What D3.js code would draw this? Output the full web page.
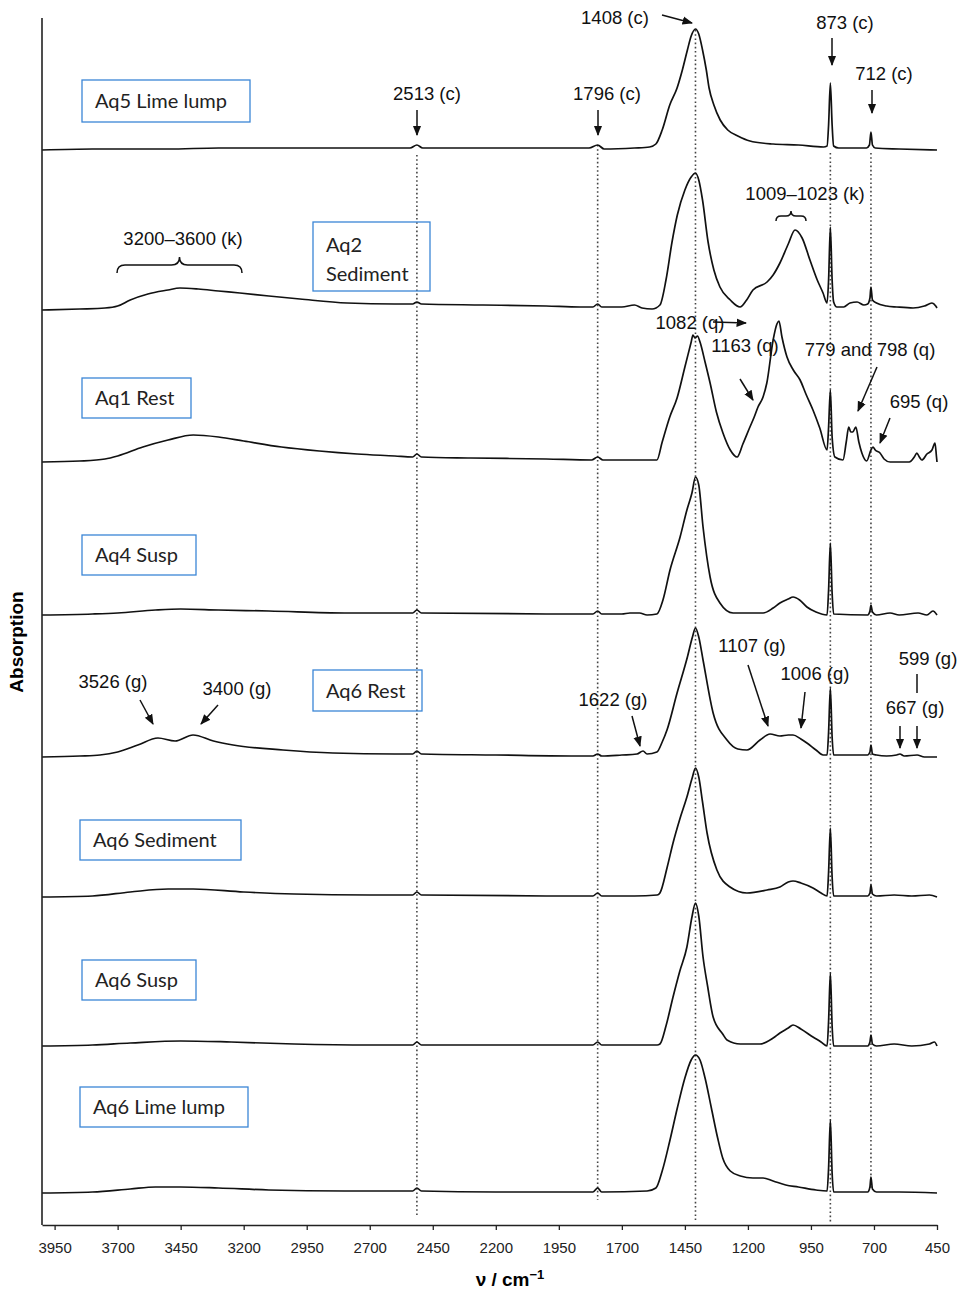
<!DOCTYPE html>
<html>
<head>
<meta charset="utf-8">
<script src="https://cdn.jsdelivr.net/npm/d3@7"></script>
<style>
  body { margin: 0; background: #fff; }
  svg { display: block; }
  .ann { font-family: "Liberation Sans", Arial, sans-serif; font-size: 18.5px; fill: #111; }
  .lbl { font-family: Lato, "Open Sans", sans-serif; font-size: 20px; fill: #222; }
</style>
</head>
<body>
<div id="chart"></div>
<script>
// wavenumber ticks (cm-1)
const xTicks = [3950, 3700, 3450, 3200, 2950, 2700, 2450, 2200, 1950, 1700, 1450, 1200, 950, 700, 450];

// sample names, top to bottom
const sampleNames = ["Aq5 Lime lump", "Aq2 Sediment", "Aq1 Rest", "Aq4 Susp",
                     "Aq6 Rest", "Aq6 Sediment", "Aq6 Susp", "Aq6 Lime lump"];

// vertical offsets of each spectrum (arbitrary absorption units)
const offsets = [10.75, 9.15, 7.63, 6.10, 4.68, 3.28, 1.79, 0.32];

// reference band positions drawn as dotted lines
const refBands = [2513, 1796, 1408, 873, 712];

// spectra: [wavenumber, absorption above offset]
const aq5LimeLump = [[4000,0],[3800,0.01],[3500,0.01],[3300,0.02],[3000,0.02],[2700,0.02],[2540,0.02],[2513,0.05],[2490,0.02],[2300,0.02],[2000,0.02],[1830,0.02],[1796,0.05],[1770,0.01],[1650,0.02],[1590,0.03],[1565,0.06],[1540,0.2],[1510,0.45],[1481,0.62],[1460,0.8],[1440,1.0],[1425,1.14],[1408,1.21],[1395,1.16],[1380,1.0],[1365,0.8],[1354,0.62],[1335,0.45],[1310,0.3],[1280,0.2],[1240,0.14],[1192,0.09],[1100,0.06],[1000,0.05],[900,0.03],[886,0.04],[880,0.25],[873,0.67],[866,0.25],[860,0.04],[840,0.02],[730,0.02],[718,0.05],[712,0.18],[706,0.05],[695,0.02],[600,0.01],[450,0]];

const aq2Sediment = [[4000,0],[3850,0.01],[3750,0.02],[3700,0.04],[3650,0.1],[3580,0.16],[3500,0.2],[3453,0.22],[3380,0.21],[3300,0.19],[3215,0.17],[3100,0.14],[2977,0.11],[2790,0.07],[2600,0.06],[2530,0.06],[2513,0.08],[2495,0.06],[2251,0.05],[2000,0.04],[1866,0.03],[1815,0.03],[1796,0.06],[1780,0.03],[1700,0.03],[1650,0.05],[1620,0.02],[1580,0.01],[1549,0.05],[1525,0.3],[1501,0.68],[1480,0.95],[1450,1.2],[1425,1.33],[1408,1.37],[1395,1.3],[1380,1.1],[1358,0.68],[1335,0.4],[1311,0.23],[1270,0.1],[1231,0.03],[1205,0.1],[1180,0.2],[1124,0.28],[1100,0.35],[1073,0.47],[1040,0.66],[1013,0.8],[985,0.72],[954,0.5],[925,0.3],[902,0.17],[886,0.07],[880,0.3],[873,0.83],[866,0.3],[860,0.08],[847,0.03],[820,0.03],[795,0.07],[767,0.08],[740,0.05],[725,0.06],[716,0.12],[712,0.23],[706,0.1],[690,0.07],[650,0.04],[609,0.03],[545,0.02],[500,0.04],[470,0.07],[455,0.04],[450,0.02]];

const aq1Rest = [[4000,0],[3850,0.01],[3750,0.03],[3700,0.06],[3600,0.15],[3500,0.22],[3400,0.27],[3300,0.25],[3200,0.21],[3050,0.15],[2900,0.11],[2750,0.08],[2600,0.06],[2530,0.05],[2513,0.08],[2495,0.05],[2300,0.04],[2000,0.03],[1820,0.02],[1796,0.05],[1775,0.02],[1650,0.02],[1561,0.02],[1540,0.2],[1510,0.45],[1481,0.64],[1450,0.95],[1425,1.2],[1418,1.27],[1410,1.24],[1400,1.26],[1390,1.2],[1370,1.0],[1350,0.79],[1325,0.5],[1299,0.29],[1270,0.12],[1243,0.05],[1220,0.18],[1192,0.35],[1175,0.45],[1160,0.55],[1140,0.65],[1125,0.79],[1100,1.22],[1085,1.38],[1077,1.41],[1065,1.25],[1045,1.05],[1020,0.92],[993,0.82],[970,0.68],[942,0.52],[915,0.34],[886,0.12],[880,0.35],[873,0.72],[866,0.25],[855,0.05],[823,0.02],[810,0.2],[800,0.35],[792,0.3],[784,0.3],[772,0.35],[760,0.2],[748,0.09],[729,0.01],[712,0.12],[704,0.15],[695,0.12],[676,0.09],[660,0.03],[636,0],[560,0],[540,0.05],[530,0.09],[520,0.05],[510,0.02],[490,0.08],[470,0.12],[458,0.19],[452,0.05],[450,0]];

const aq4Susp = [[4000,0],[3800,0.01],[3700,0.02],[3550,0.05],[3450,0.06],[3300,0.05],[3100,0.04],[2800,0.02],[2530,0.02],[2513,0.05],[2495,0.02],[2000,0.01],[1815,0.01],[1796,0.04],[1780,0.01],[1700,0.01],[1668,0.02],[1630,0.02],[1600,0],[1561,0.01],[1537,0.15],[1509,0.45],[1469,0.78],[1442,1.05],[1422,1.22],[1408,1.38],[1395,1.3],[1378,0.88],[1350,0.38],[1311,0.12],[1259,0.02],[1140,0.02],[1100,0.07],[1073,0.12],[1040,0.16],[1021,0.18],[995,0.15],[966,0.08],[930,0.03],[886,0],[880,0.25],[873,0.72],[866,0.22],[860,0.01],[725,0],[716,0.04],[712,0.1],[706,0.03],[690,0],[636,0.02],[600,0],[525,0.02],[490,0],[466,0.04],[450,0]];

const aq6Rest = [[4000,0],[3850,0.01],[3770,0.02],[3700,0.05],[3620,0.12],[3540,0.19],[3472,0.16],[3401,0.22],[3320,0.16],[3242,0.12],[3044,0.07],[2846,0.04],[2600,0.03],[2530,0.03],[2513,0.06],[2495,0.03],[2200,0.02],[1900,0.01],[1815,0.01],[1796,0.03],[1780,0.01],[1700,0.02],[1640,0.03],[1616,0.06],[1600,0.03],[1561,0.05],[1540,0.15],[1521,0.27],[1481,0.64],[1440,1.0],[1420,1.2],[1408,1.29],[1395,1.2],[1378,0.97],[1338,0.44],[1283,0.17],[1240,0.08],[1204,0.07],[1152,0.17],[1112,0.23],[1073,0.21],[1040,0.22],[1021,0.22],[990,0.18],[966,0.14],[930,0.07],[902,0.02],[886,0.02],[880,0.25],[873,0.69],[866,0.2],[860,0.02],[725,0.02],[716,0.05],[712,0.12],[706,0.03],[690,0.02],[650,0.01],[610,0.02],[597,0.03],[580,0.01],[529,0.02],[500,0],[450,0]];

const aq6Sediment = [[4000,0],[3800,0.01],[3650,0.05],[3500,0.08],[3400,0.08],[3200,0.05],[3000,0.03],[2700,0.02],[2530,0.02],[2513,0.05],[2495,0.02],[2000,0.01],[1815,0.01],[1796,0.04],[1780,0.01],[1650,0.01],[1560,0.02],[1549,0.04],[1520,0.3],[1497,0.54],[1470,0.78],[1442,1.0],[1420,1.2],[1408,1.29],[1395,1.2],[1380,0.95],[1362,0.64],[1323,0.27],[1271,0.1],[1204,0.04],[1124,0.07],[1073,0.1],[1040,0.15],[1021,0.16],[990,0.14],[942,0.09],[910,0.04],[886,0.01],[880,0.25],[873,0.69],[866,0.2],[860,0.01],[725,0.01],[716,0.04],[712,0.12],[706,0.03],[690,0.01],[620,0.02],[550,0.01],[480,0.02],[450,0]];

const aq6Susp = [[4000,0],[3800,0.01],[3650,0.03],[3450,0.05],[3250,0.04],[3000,0.02],[2700,0.01],[2530,0.01],[2513,0.04],[2495,0.01],[1815,0.01],[1796,0.04],[1780,0.01],[1560,0.01],[1549,0.02],[1525,0.2],[1497,0.49],[1470,0.75],[1442,0.99],[1422,1.29],[1408,1.43],[1395,1.3],[1378,0.89],[1360,0.6],[1338,0.29],[1300,0.12],[1283,0.06],[1230,0.02],[1152,0.02],[1100,0.08],[1073,0.13],[1040,0.18],[1021,0.21],[990,0.17],[942,0.09],[910,0.04],[886,0],[880,0.25],[873,0.73],[866,0.2],[860,0],[725,0],[716,0.04],[712,0.11],[706,0.02],[690,0],[620,0.02],[550,0],[480,0.02],[460,0.04],[450,0]];

const aq6LimeLump = [[4000,0],[3800,0.01],[3650,0.04],[3550,0.06],[3450,0.06],[3300,0.05],[3100,0.03],[2800,0.02],[2600,0.02],[2530,0.02],[2513,0.05],[2495,0.02],[2200,0.01],[1900,0.01],[1815,0.01],[1796,0.05],[1780,0.01],[1600,0.02],[1565,0.05],[1540,0.22],[1510,0.52],[1480,0.85],[1450,1.15],[1425,1.33],[1408,1.38],[1390,1.33],[1370,1.15],[1345,0.85],[1320,0.55],[1300,0.35],[1270,0.22],[1230,0.17],[1180,0.15],[1140,0.15],[1100,0.12],[1050,0.08],[1000,0.06],[930,0.03],[886,0.02],[880,0.25],[873,0.73],[866,0.2],[860,0.01],[725,0.01],[716,0.06],[712,0.16],[706,0.04],[690,0.01],[600,0.01],[450,0]];

const spectra = [aq5LimeLump, aq2Sediment, aq1Rest, aq4Susp, aq6Rest, aq6Sediment, aq6Susp, aq6LimeLump];

const width = 966, height = 1293;
const margin = {left: 42, right: 29, top: 18, bottom: 68};

const svg = d3.select('#chart').append('svg')
    .attr('width', width)
    .attr('height', height);

svg.append('defs').append('marker')
    .attr('id', 'arrow')
    .attr('viewBox', '0 0 10 10')
    .attr('refX', 9).attr('refY', 5)
    .attr('markerWidth', 7).attr('markerHeight', 7)
    .attr('orient', 'auto-start-reverse')
    .append('path')
    .attr('d', 'M0,1 L10,5 L0,9 z')
    .attr('fill', '#111');

const x = d3.scaleLinear()
    .domain([4000, 450])
    .range([margin.left, width - margin.right]);

const y = d3.scaleLinear()
    .domain([0, 12.07])
    .range([height - margin.bottom, margin.top]);

// dotted reference lines
const dotTops = {2513: 10.7, 1796: 10.8, 1408: 11.95, 873: 10.72, 712: 10.72};
const dotBottoms = {2513: 0.1, 1796: 0.25, 1408: 0.05, 873: 0.03, 712: 0.35};
svg.selectAll('.ref')
    .data(refBands)
    .enter()
    .append('line')
    .attr('class', 'ref')
    .attr('x1', d => x(d)).attr('x2', d => x(d))
    .attr('y1', d => y(dotTops[d]))
    .attr('y2', d => y(dotBottoms[d]))
    .style('stroke', '#444')
    .style('stroke-width', 1.6)
    .style('stroke-dasharray', '1.6,2.6');

// spectra
const line = d3.line()
    .x(d => x(d[0]))
    .y(d => y(d[1]))
    .curve(d3.curveMonotoneX);

svg.selectAll('.spec')
    .data(spectra)
    .enter()
    .append('path')
    .attr('class', 'spec')
    .attr('d', (d, i) => line(d.map(p => [p[0], p[1] + offsets[i]])))
    .style('fill', 'none')
    .style('stroke', '#111')
    .style('stroke-width', 1.7)
    .style('stroke-linejoin', 'round');

// axes
const xAxis = d3.axisBottom(x)
    .tickValues(xTicks)
    .tickFormat(d3.format('d'))
    .tickSize(5)
    .tickPadding(12)
    .tickSizeOuter(0);

const gx = svg.append('g')
    .attr('transform', `translate(0,${height - margin.bottom})`)
    .call(xAxis);
gx.select('.domain').style('stroke', '#222').style('stroke-width', 1.6);
gx.selectAll('.tick line').style('stroke', '#222').style('stroke-width', 1.3);
gx.selectAll('.tick text')
    .style('font-family', '"Liberation Sans", Arial, sans-serif')
    .style('font-size', '15px')
    .style('fill', '#222');

svg.append('line')
    .attr('x1', margin.left).attr('x2', margin.left)
    .attr('y1', margin.top).attr('y2', height - margin.bottom)
    .style('stroke', '#222')
    .style('stroke-width', 1.6);

svg.append('text')
    .attr('x', 510).attr('y', 1286)
    .attr('text-anchor', 'middle')
    .style('font-family', '"Liberation Sans", Arial, sans-serif')
    .style('font-weight', 'bold')
    .style('font-size', '19px')
    .text('ν / cm')
    .append('tspan')
    .attr('dy', -7)
    .style('font-size', '13px')
    .text('−1');

svg.append('text')
    .attr('transform', 'translate(23,642) rotate(-90)')
    .attr('text-anchor', 'middle')
    .style('font-family', '"Liberation Sans", Arial, sans-serif')
    .style('font-weight', 'bold')
    .style('font-size', '19px')
    .text('Absorption');

// sample label boxes
const boxes = [
    {x: 82, y: 80, w: 168, h: 42, lines: [sampleNames[0]]},
    {x: 313, y: 222, w: 117, h: 69, lines: ['Aq2', 'Sediment']},
    {x: 82, y: 378, w: 109, h: 40, lines: [sampleNames[2]]},
    {x: 82, y: 535, w: 114, h: 40, lines: [sampleNames[3]]},
    {x: 313, y: 670, w: 109, h: 41, lines: [sampleNames[4]]},
    {x: 80, y: 820, w: 161, h: 40, lines: [sampleNames[5]]},
    {x: 82, y: 960, w: 114, h: 40, lines: [sampleNames[6]]},
    {x: 80, y: 1087, w: 168, h: 40, lines: [sampleNames[7]]}
];
const bg = svg.selectAll('.box').data(boxes).enter().append('g').attr('class', 'box');
bg.append('rect')
    .attr('x', d => d.x).attr('y', d => d.y)
    .attr('width', d => d.w).attr('height', d => d.h)
    .style('fill', 'none')
    .style('stroke', '#3b86d6')
    .style('stroke-width', 1.3);
bg.each(function(d) {
    const g = d3.select(this);
    d.lines.forEach((t, k) => {
        g.append('text')
            .attr('class', 'lbl')
            .attr('x', d.x + 13)
            .attr('y', d.lines.length > 1 ? d.y + 30 + k * 29 : d.y + d.h / 2 + 7)
            .text(t);
    });
});

// band annotations
const annText = [
    ['1408 (c)', 615, 24], ['873 (c)', 845, 29], ['712 (c)', 884, 80],
    ['2513 (c)', 427, 100], ['1796 (c)', 607, 100],
    ['1009–1023 (k)', 805, 200], ['3200–3600 (k)', 183, 245],
    ['1082 (q)', 690, 329], ['1163 (q)', 745, 352], ['779 and 798 (q)', 870, 356], ['695 (q)', 919, 408],
    ['3526 (g)', 113, 688], ['3400 (g)', 237, 695], ['1622 (g)', 613, 706],
    ['1107 (g)', 752, 652], ['1006 (g)', 815, 680], ['599 (g)', 928, 665], ['667 (g)', 915, 714]
];
svg.selectAll('.ann')
    .data(annText)
    .enter()
    .append('text')
    .attr('class', 'ann')
    .attr('x', d => d[1]).attr('y', d => d[2])
    .attr('text-anchor', 'middle')
    .text(d => d[0]);

const arrows = [
    [662, 15, 692, 23], [832, 38, 832, 65], [872, 90, 872, 113],
    [417, 110, 417, 135], [598, 110, 598, 135],
    [713, 322, 746, 323], [740, 379, 753, 400], [877, 367, 858, 411], [890, 418, 880, 443],
    [140, 700, 153, 724], [218, 705, 201, 724], [632, 716, 640, 746],
    [748, 665, 768, 726], [805, 692, 801, 728], [900, 726, 900, 748], [917, 726, 917, 748]
];
svg.selectAll('.arr')
    .data(arrows)
    .enter()
    .append('line')
    .attr('class', 'arr')
    .attr('x1', d => d[0]).attr('y1', d => d[1])
    .attr('x2', d => d[2]).attr('y2', d => d[3])
    .style('stroke', '#111')
    .style('stroke-width', 1.5)
    .attr('marker-end', 'url(#arrow)');

// 599 tick line
svg.append('line')
    .attr('x1', 917).attr('x2', 917).attr('y1', 674).attr('y2', 693)
    .style('stroke', '#111').style('stroke-width', 1.5);

// curly braces
function brace(x0, x1, yb, h) {
    const m = (x0 + x1) / 2;
    return `M${x0},${yb} q0,${-h} ${h},${-h} L${m - h},${yb - h} q${h},0 ${h},${-h} q0,${h} ${h},${h} L${x1 - h},${yb - h} q${h},0 ${h},${h}`;
}
svg.append('path')
    .attr('d', brace(117, 242, 273, 8))
    .style('fill', 'none').style('stroke', '#111').style('stroke-width', 1.5);
svg.append('path')
    .attr('d', brace(776, 806, 221, 5))
    .style('fill', 'none').style('stroke', '#111').style('stroke-width', 1.5);
</script>
</body>
</html>
